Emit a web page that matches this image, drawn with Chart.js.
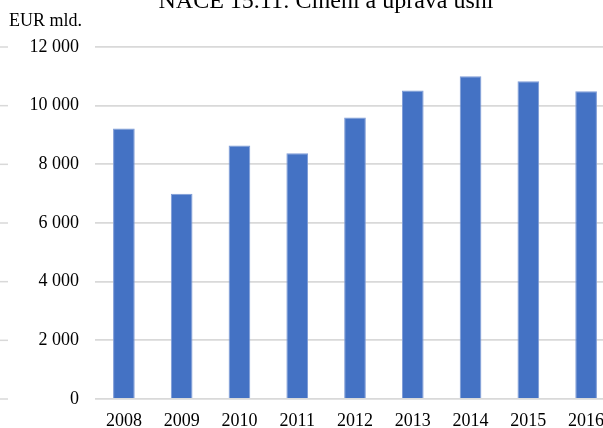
<!DOCTYPE html>
<html>
<head>
<meta charset="utf-8">
<script src="https://cdn.jsdelivr.net/npm/chart.js@4/dist/chart.umd.min.js"></script>
<style>
  html, body { margin: 0; padding: 0; background: #fff; overflow: hidden; width: 603px; height: 428px; }
  canvas { display: block; }
</style>
</head>
<body>
<canvas id="naceChart" width="615" height="428"></canvas>
<script>
// data
const years = ['2008', '2009', '2010', '2011', '2012', '2013', '2014', '2015', '2016'];
const values = [9220, 7000, 8640, 8380, 9600, 10520, 11000, 10830, 10490];
const titleText = 'NACE 15.11: Činění a úprava usní';
const unitText = 'EUR mld.';

const serif = '"Liberation Serif", "Times New Roman", serif';

function withSpaces(v) {
  return String(v).replace(/\B(?=(\d{3})+(?!\d))/g, ' ');
}

// title (cut at the top edge), unit label and the little stubs at the left edge
const decorPlugin = {
  id: 'decor',
  afterDraw(chart) {
    const ctx = chart.ctx;
    const yScale = chart.scales.y;
    ctx.save();
    ctx.fillStyle = '#000';
    ctx.font = '24px ' + serif;
    ctx.textAlign = 'center';
    ctx.textBaseline = 'alphabetic';
    ctx.fillText(titleText, 326, 8);
    ctx.font = '18px ' + serif;
    ctx.textAlign = 'left';
    ctx.fillText(unitText, 9, 26);
    ctx.strokeStyle = '#D9D9D9';
    ctx.lineWidth = 1.5;
    yScale.ticks.forEach(t => {
      const y = yScale.getPixelForValue(t.value);
      ctx.beginPath();
      ctx.moveTo(0, y);
      ctx.lineTo(8, y);
      ctx.stroke();
    });
    ctx.restore();
  }
};

const ctx = document.getElementById('naceChart').getContext('2d');
new Chart(ctx, {
  type: 'bar',
  data: {
    labels: years,
    datasets: [{
      data: values,
      backgroundColor: '#4472C4',
      borderColor: '#7E9BD6',
      borderWidth: 1,
      barPercentage: 0.375,
      categoryPercentage: 1,
    }],
  },
  options: {
    responsive: false,
    animation: false,
    layout: { padding: { top: 47, right: 0, left: 0, bottom: 0 } },
    plugins: {
      legend: { display: false },
      tooltip: { enabled: false },
    },
    scales: {
      x: {
        grid: { display: false },
        border: { display: false },
        ticks: {
          color: '#000',
          font: { family: serif, size: 18 },
          padding: 3,
          maxRotation: 0,
        },
        afterFit: s => { s.height = 29; },
      },
      y: {
        min: 0,
        max: 12000,
        grid: { color: '#D9D9D9', lineWidth: 1.8, drawTicks: false },
        border: { display: false },
        ticks: {
          stepSize: 2000,
          color: '#000',
          font: { family: serif, size: 18 },
          padding: 16,
          callback: v => withSpaces(v),
        },
        afterFit: s => { s.width = 95; },
      },
    },
  },
  plugins: [decorPlugin],
});
</script>
</body>
</html>
